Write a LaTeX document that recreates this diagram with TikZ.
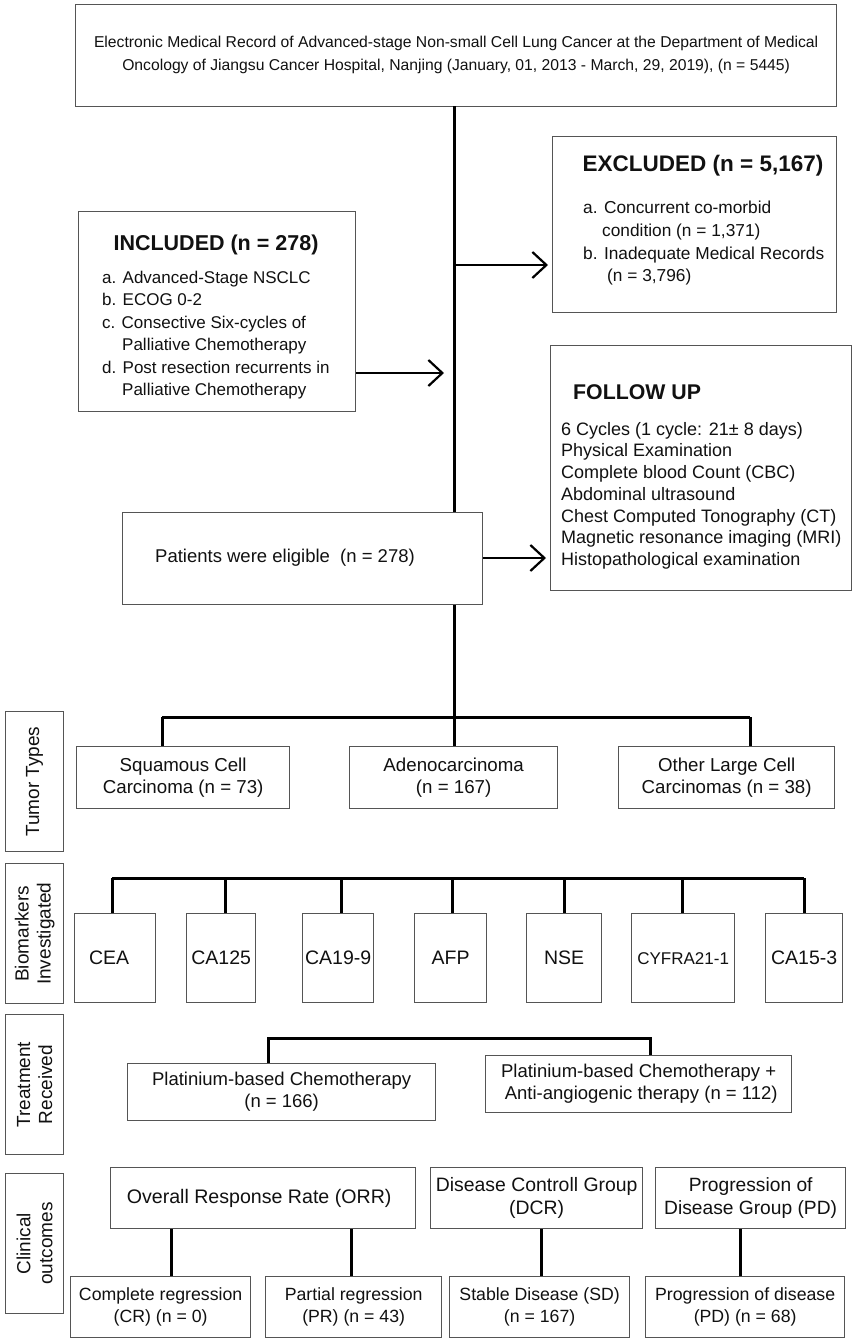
\documentclass[tikz,border=0pt]{standalone}
\usepackage{fontspec}
\setmainfont{Liberation Sans}
\usetikzlibrary{arrows.meta}
\definecolor{boxgray}{HTML}{555555}
\definecolor{txt}{HTML}{111111}
\newcommand\fs[2]{\fontsize{#1}{#2}\selectfont}
\begin{document}
\begin{tikzpicture}[x=1pt,y=-1pt,
  box/.style={draw=boxgray, line width=1.3pt, fill=white, inner sep=0pt, anchor=north west},
  lbl/.style={inner sep=0pt, text=txt, align=center},
  lst/.style={inner sep=0pt, text=txt, align=left, anchor=north west},
  side/.style={lbl, font=\fs{19}{22}, rotate=90},
  conn/.style={line width=3pt, black},
  arr/.style={line width=2.6pt, black, -{Straight Barb[length=14pt,width=26pt,line width=2.2pt]}},
]
\useasboundingbox (0,0) rectangle (853,1339);
\fill[white] (0,0) rectangle (853,1339);

% ---------- top part ----------
\node[box, minimum width=761, minimum height=102] (top) at (75,4) {};
\node[lbl, font=\fs{15.7}{23}] (toptxt) at ([yshift=1pt]top.center) {Electronic Medical Record of Advanced-stage Non-small Cell Lung Cancer at the Department of Medical\\Oncology of Jiangsu Cancer Hospital, Nanjing (January, 01, 2013 - March, 29, 2019), (n = 5445)};

\node[box, minimum width=284, minimum height=176] (exc) at (552,136) {};
\node[lbl, font=\bfseries\fs{22.5}{26}, anchor=center] (exct) at (703,166) {EXCLUDED (n = 5,167)};
\node[lst, font=\fs{17.3}{22.7}] (excl) at (583,201) {a. Concurrent co-morbid\\\hspace*{19pt}condition (n = 1,371)\\b. Inadequate Medical Records\\\hspace*{24pt}(n = 3,796)};

\node[box, minimum width=277, minimum height=200] (inc) at (78,211) {};
\node[lbl, font=\bfseries\fs{21.5}{25}, anchor=center] (inct) at (216,245) {INCLUDED (n = 278)};
\node[lst, font=\fs{17}{22.4}] (incl) at (102,271) {a. Advanced-Stage NSCLC\\b. ECOG 0-2\\c. Consective Six-cycles of\\\hspace*{20pt}Palliative Chemotherapy\\d. Post resection recurrents in\\\hspace*{20pt}Palliative Chemotherapy};

\node[box, minimum width=301, minimum height=245] (fol) at (550,345) {};
\node[lbl, font=\bfseries\fs{21.3}{25}, anchor=west] (folt) at (573,392) {FOLLOW UP};
\node[lst, font=\fs{18}{21.7}] (foll) at (561,422) {6 Cycles (1 cycle: 21± 8 days)\\Physical Examination\\Complete blood Count (CBC)\\Abdominal ultrasound\\Chest Computed Tonography (CT)\\Magnetic resonance imaging (MRI)\\Histopathological examination};

\node[box, minimum width=360, minimum height=92] (pat) at (122,512) {};
\node[lbl, font=\fs{18.5}{22}] (patt) at (285,558) {Patients were eligible\ \ (n = 278)};

\coordinate (jt) at (454,106);
\coordinate (jexc) at (454,265);
\coordinate (jinc) at (454,373);
\coordinate (jbar) at (454,717);
\draw[conn] (jt) -- (jt |- pat.north);
\draw[conn] (jt |- pat.south) -- (jbar);
\draw[arr] (jexc) -- ([xshift=-4pt]exc.west |- jexc);
\draw[arr] (inc.east |- jinc) -- ([xshift=-10pt]jinc);
\draw[arr] (pat.east |- patt) -- ([xshift=-4pt]fol.west |- patt);

% ---------- side labels ----------
\node[box, minimum width=58, minimum height=140] (sTum) at (5,711) {};
\node[side] at (sTum.center) {Tumor Types};
\node[box, minimum width=58, minimum height=140] (sBio) at (5,863) {};
\node[side] at (sBio.center) {Biomarkers\\Investigated};
\node[box, minimum width=58, minimum height=140] (sTre) at (5,1014) {};
\node[side] at (sTre.center) {Treatment\\Received};
\node[box, minimum width=58, minimum height=140] (sCli) at (5,1173) {};
\node[side] at (sCli.center) {Clinical\\outcomes};

% ---------- tumor types ----------
\node[box, minimum width=213, minimum height=62] (sq) at (76,746) {};
\node[lbl, font=\fs{18.7}{22}] at (sq.center) {Squamous Cell\\Carcinoma (n = 73)};
\node[box, minimum width=208, minimum height=62] (ad) at (349,746) {};
\node[lbl, font=\fs{18.7}{22}] at (ad.center) {Adenocarcinoma\\(n = 167)};
\node[box, minimum width=216, minimum height=62] (ot) at (618,746) {};
\node[lbl, font=\fs{18.7}{22}] at (ot.center) {Other Large Cell\\Carcinomas (n = 38)};
\coordinate (tb1) at (162,717);
\coordinate (tb3) at (750,717);
\draw[conn] (tb1) -- (tb3);
\draw[conn] (tb1) -- (tb1 |- sq.north);
\draw[conn] (jbar) -- (jbar |- ad.north);
\draw[conn] (tb3) -- (tb3 |- ot.north);

% ---------- biomarkers ----------
\node[box, minimum width=81, minimum height=89] (b1) at (74,913) {};
\node[lbl, font=\fs{19.5}{22}] at ([xshift=-6pt]b1.center) {CEA};
\node[box, minimum width=69, minimum height=89] (b2) at (186,913) {};
\node[lbl, font=\fs{19.5}{22}] at (b2.center) {CA125};
\node[box, minimum width=71, minimum height=89] (b3) at (302,913) {};
\node[lbl, font=\fs{19.5}{22}] at (b3.center) {CA19-9};
\node[box, minimum width=72, minimum height=89] (b4) at (414,913) {};
\node[lbl, font=\fs{19.5}{22}] at (b4.center) {AFP};
\node[box, minimum width=75, minimum height=89] (b5) at (526,913) {};
\node[lbl, font=\fs{19.5}{22}] at (b5.center) {NSE};
\node[box, minimum width=103, minimum height=89] (b6) at (631,913) {};
\node[lbl, font=\fs{17}{22}] at (b6.center) {CYFRA21-1};
\node[box, minimum width=77, minimum height=89] (b7) at (765,913) {};
\node[lbl, font=\fs{19.5}{22}] at (b7.center) {CA15-3};
\coordinate (bb1) at (112,878);
\coordinate (bb2) at (225,878);
\coordinate (bb3) at (341,878);
\coordinate (bb4) at (452,878);
\coordinate (bb5) at (564,878);
\coordinate (bb6) at (682,878);
\coordinate (bb7) at (804,878);
\draw[conn] (bb1) -- (bb7);
\foreach \i in {1,...,7} {\draw[conn] (bb\i) -- (bb\i |- b\i.north);}

% ---------- treatment ----------
\node[box, minimum width=308, minimum height=57] (t1) at (127,1063) {};
\node[lbl, font=\fs{18.5}{22}] at (t1.center) {Platinium-based Chemotherapy\\(n = 166)};
\node[box, minimum width=306, minimum height=57] (t2) at (485,1055) {};
\node[lbl, font=\fs{18.5}{22}] at (t2.center) {Platinium-based Chemotherapy +\\\ Anti-angiogenic therapy (n = 112)};
\coordinate (tr1) at (268,1038);
\coordinate (tr2) at (650,1038);
\draw[conn] (tr1 |- t1.north) -- (tr1) -- (tr2) -- (tr2 |- t2.north);

% ---------- clinical outcomes ----------
\node[box, minimum width=305, minimum height=61] (orr) at (110,1167) {};
\node[lbl, font=\fs{19.6}{22}] at ([xshift=-4pt]orr.center) {Overall Response Rate (ORR)};
\node[box, minimum width=212, minimum height=61] (dcr) at (430,1167) {};
\node[lbl, font=\fs{19.4}{23}] at (dcr.center) {Disease Controll Group\\(DCR)};
\node[box, minimum width=190, minimum height=61] (pdg) at (655,1167) {};
\node[lbl, font=\fs{19.2}{23}] at (pdg.center) {Progression of\\Disease Group (PD)};

\node[box, minimum width=180, minimum height=61] (cr) at (70,1276) {};
\node[lbl, font=\fs{17.7}{22}] at (cr.center) {Complete regression\\(CR) (n = 0)};
\node[box, minimum width=176, minimum height=61] (pr) at (265,1276) {};
\node[lbl, font=\fs{17.7}{22}] at (pr.center) {Partial regression\\(PR) (n = 43)};
\node[box, minimum width=180, minimum height=61] (sd) at (449,1276) {};
\node[lbl, font=\fs{17.7}{22}] at (sd.center) {Stable Disease (SD)\\(n = 167)};
\node[box, minimum width=199, minimum height=61] (pd) at (645,1276) {};
\node[lbl, font=\fs{17.7}{22}] at (pd.center) {Progression of disease\\(PD) (n = 68)};

\coordinate (c1) at (171,1250);
\coordinate (c2) at (351,1250);
\coordinate (c3) at (541,1250);
\coordinate (c4) at (740,1250);
\draw[conn] (c1 |- orr.south) -- (c1 |- cr.north);
\draw[conn] (c2 |- orr.south) -- (c2 |- pr.north);
\draw[conn] (c3 |- dcr.south) -- (c3 |- sd.north);
\draw[conn] (c4 |- pdg.south) -- (c4 |- pd.north);
\end{tikzpicture}
\end{document}
